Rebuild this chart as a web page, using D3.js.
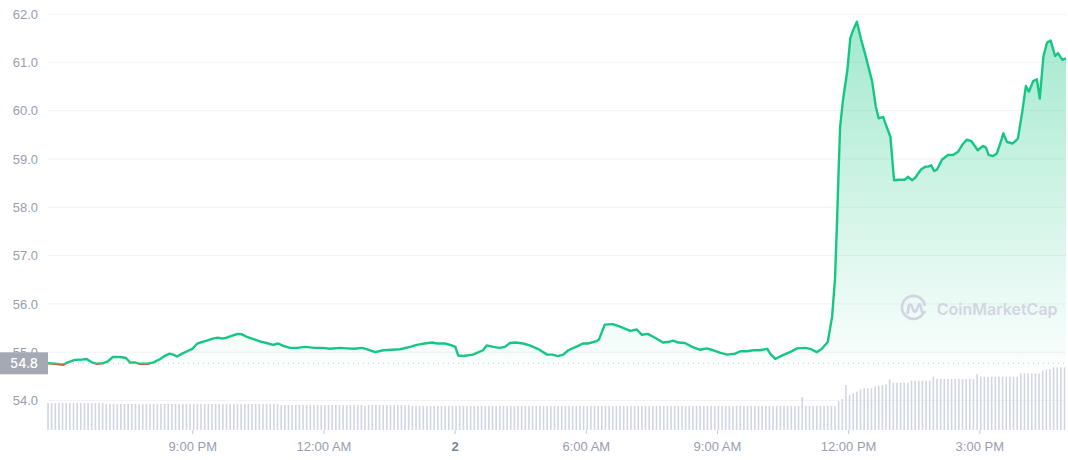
<!DOCTYPE html>
<html>
<head>
  <script src="https://d3js.org/d3.v7.min.js"></script>
  <style>
    body { margin: 0; background: #fff; }
    svg { display: block; font-family: "Inter", sans-serif; }
    .axis text { font-size: 13px; font-weight: 500; fill: #979eae; }
    .axis path { display: none; }
  </style>
</head>
<body>
  <script>
    // minutes after window start (5:42 PM), price in USD
    const minutes = [
      0, 10, 21, 27, 37, 48, 53, 60, 67, 75,
      82, 89, 99, 107, 113, 119, 126, 137, 145, 154,
      161, 167, 172, 177, 184, 191, 198, 205, 211, 218,
      226, 233, 239, 245, 254, 261, 266, 274, 284, 294,
      300, 309, 316, 323, 332, 342, 353, 366, 377, 387,
      401, 410, 421, 431, 438, 449, 460, 472, 483, 497,
      506, 517, 527, 534, 545, 554, 559, 563, 570, 583,
      597, 602, 611, 620, 627, 634, 641, 652, 661, 672,
      685, 692, 700, 707, 714, 726, 734, 741, 753, 756,
      764, 775, 785, 799, 808, 815, 823, 833, 844, 851,
      858, 865, 874, 884, 895, 904, 913, 922, 932, 943,
      950, 959, 968, 977, 987, 991, 998, 1007, 1018, 1028,
      1039, 1046, 1055, 1062, 1070, 1076, 1080, 1083, 1085, 1087, 1091,
      1097, 1101, 1105, 1110, 1116, 1121, 1131, 1136, 1140, 1146,
      1150, 1156, 1161, 1167, 1176, 1180, 1186, 1190, 1198, 1204,
      1208, 1212, 1216, 1220, 1227, 1235, 1242, 1249, 1256, 1261,
      1267, 1276, 1283, 1287, 1291, 1297, 1302, 1307, 1311, 1316,
      1324, 1331, 1337, 1342, 1346, 1352, 1357, 1361, 1366, 1371,
      1376, 1382, 1386, 1392, 1397
    ];
    const prices = [
      54.77, 54.76, 54.74, 54.79, 54.84, 54.85, 54.86, 54.79, 54.76, 54.77,
      54.81, 54.90, 54.90, 54.88, 54.78, 54.79, 54.76, 54.76, 54.79, 54.86,
      54.93, 54.97, 54.95, 54.91, 54.97, 55.02, 55.07, 55.18, 55.21, 55.24,
      55.28, 55.30, 55.28, 55.30, 55.35, 55.38, 55.37, 55.31, 55.26, 55.21,
      55.19, 55.15, 55.18, 55.13, 55.09, 55.09, 55.11, 55.09, 55.09, 55.07,
      55.09, 55.08, 55.07, 55.09, 55.06, 55.00, 55.04, 55.05, 55.06, 55.11,
      55.15, 55.18, 55.20, 55.18, 55.18, 55.14, 55.11, 54.93, 54.92, 54.95,
      55.04, 55.14, 55.11, 55.09, 55.11, 55.19, 55.20, 55.18, 55.14, 55.07,
      54.95, 54.95, 54.92, 54.95, 55.04, 55.12, 55.18, 55.18, 55.23, 55.26,
      55.57, 55.58, 55.53, 55.44, 55.47, 55.36, 55.38, 55.30, 55.20, 55.21,
      55.24, 55.20, 55.19, 55.11, 55.05, 55.08, 55.04, 54.99, 54.95, 54.97,
      55.02, 55.02, 55.04, 55.04, 55.07, 54.97, 54.86, 54.93, 55.00, 55.08,
      55.09, 55.07, 55.00, 55.07, 55.21, 55.73, 56.52, 57.80, 58.77, 59.66, 60.22,
      60.84, 61.50, 61.67, 61.84, 61.46, 61.19, 60.60, 60.08, 59.84, 59.87,
      59.70, 59.46, 58.56, 58.57, 58.57, 58.63, 58.56, 58.61, 58.78, 58.84,
      58.84, 58.87, 58.75, 58.78, 58.99, 59.08, 59.08, 59.15, 59.32, 59.40,
      59.37, 59.18, 59.27, 59.24, 59.08, 59.06, 59.11, 59.33, 59.53, 59.35,
      59.32, 59.42, 59.98, 60.51, 60.39, 60.61, 60.65, 60.25, 61.12, 61.41,
      61.45, 61.13, 61.19, 61.05, 61.08
    ];
    // volume per 5-minute bar (relative units)
    const volumes = [
      2.7, 2.7, 2.7, 2.7, 2.7, 2.7, 2.7, 2.7, 2.7, 2.7, 2.7, 2.7, 2.7, 2.7, 2.7, 2.7, 2.6, 2.6, 2.6, 2.6,
      2.6, 2.6, 2.6, 2.6, 2.6, 2.6, 2.6, 2.6, 2.6, 2.6, 2.6, 2.6, 2.6, 2.6, 2.6, 2.6, 2.6, 2.6, 2.6, 2.6,
      2.6, 2.6, 2.6, 2.6, 2.6, 2.6, 2.6, 2.6, 2.6, 2.6, 2.6, 2.6, 2.6, 2.6, 2.6, 2.6, 2.6, 2.6, 2.6, 2.6,
      2.6, 2.6, 2.6, 2.6, 2.5, 2.5, 2.5, 2.5, 2.5, 2.5, 2.5, 2.5, 2.5, 2.5, 2.5, 2.5, 2.5, 2.5, 2.5, 2.5,
      2.5, 2.5, 2.5, 2.5, 2.5, 2.5, 2.5, 2.4, 2.5, 2.5, 2.5, 2.5, 2.5, 2.5, 2.5, 2.5, 2.5, 2.5, 2.5, 2.5,
      2.4, 2.4, 2.4, 2.4, 2.4, 2.4, 2.4, 2.4, 2.4, 2.4, 2.4, 2.4, 2.4, 2.4, 2.4, 2.4, 2.4, 2.4, 2.4, 2.4,
      2.4, 2.4, 2.4, 2.4, 2.4, 2.4, 2.4, 2.4, 2.4, 2.4, 2.4, 2.4, 2.4, 2.4, 2.4, 2.4, 2.4, 2.4, 2.4, 2.4,
      2.4, 2.4, 2.4, 2.4, 2.4, 2.4, 2.4, 2.4, 2.4, 2.4, 2.4, 2.4, 2.4, 2.4, 2.4, 2.4, 2.4, 2.4, 2.4, 2.4,
      2.4, 2.4, 2.4, 2.4, 2.4, 2.4, 2.4, 2.4, 2.4, 2.4, 2.4, 2.4, 2.4, 2.4, 2.4, 2.4, 2.4, 2.4, 2.4, 2.4,
      2.4, 2.4, 2.4, 2.4, 2.4, 2.4, 2.4, 2.4, 2.4, 2.4, 2.4, 2.4, 2.4, 2.4, 2.4, 2.4, 2.4, 2.4, 2.4, 2.4,
      2.4, 2.4, 2.4, 2.4, 2.4, 2.4, 2.4, 3.3, 2.4, 2.4, 2.4, 2.4, 2.4, 2.4, 2.4, 2.4, 2.4, 2.9, 3.1, 4.5,
      3.5, 3.67, 3.83, 4.07, 4.17, 4.17, 4.17, 4.33, 4.43, 4.5, 4.57, 5.07, 4.73, 4.73, 4.73, 4.73, 4.73, 4.93, 4.93, 4.93,
      4.93, 4.93, 4.93, 5.33, 5.1, 5.1, 5.1, 5.1, 5.1, 5.1, 5.1, 5.1, 5.1, 5.1, 5.1, 5.57, 5.33, 5.33, 5.33, 5.33,
      5.33, 5.33, 5.33, 5.33, 5.33, 5.33, 5.33, 5.67, 5.67, 5.67, 5.67, 5.67, 5.67, 5.93, 6.07, 6.07, 6.27, 6.27, 6.27, 6.27
    ];
    const barMinutes = 5;
    const tickMinutes = [198, 378, 558, 738, 918, 1098, 1278];
    const tickLabels = ["9:00 PM", "12:00 AM", "2", "6:00 AM", "9:00 AM", "12:00 PM", "3:00 PM"];
    const priceTicks = [54, 55, 56, 57, 58, 59, 60, 61, 62];

    const width = 1068;
    const height = 460;
    const left = 48, right = 1066;

    const svg = d3.select("body")
      .append("svg")
      .attr("width", width)
      .attr("height", height);

    const x = d3.scaleLinear().domain([0, 1397]).range([left, right]);
    const y = d3.scaleLinear().domain([54, 62]).range([400.5, 14]);
    const yVol = d3.scaleLinear().domain([0, 7]).range([430, 360]);

    const data = minutes.map((m, i) => ({ m: m, p: prices[i] }));
    const baseline = prices[0];

    const defs = svg.append("defs");
    const grad = defs.append("linearGradient")
      .attr("id", "fillGrad")
      .attr("gradientUnits", "userSpaceOnUse")
      .attr("x1", 0).attr("x2", 0)
      .attr("y1", y(62)).attr("y2", y(baseline));
    grad.append("stop").attr("offset", "0%").attr("stop-color", "#16c784").attr("stop-opacity", 0.4);
    grad.append("stop").attr("offset", "100%").attr("stop-color", "#16c784").attr("stop-opacity", 0.02);

    defs.append("clipPath").attr("id", "above")
      .append("rect")
      .attr("x", 0).attr("y", 0)
      .attr("width", width).attr("height", y(baseline));
    defs.append("clipPath").attr("id", "below")
      .append("rect")
      .attr("x", 0).attr("y", y(baseline))
      .attr("width", width).attr("height", height - y(baseline));

    // grid
    svg.append("g")
      .selectAll("line")
      .data(priceTicks)
      .join("line")
      .attr("x1", left)
      .attr("x2", right)
      .attr("y1", d => y(d))
      .attr("y2", d => y(d))
      .attr("stroke", "#f1f2f5")
      .attr("stroke-width", 1);

    // volume bars
    svg.append("g")
      .selectAll("rect")
      .data(volumes)
      .join("rect")
      .attr("x", (d, i) => x(i * barMinutes) - 0.8)
      .attr("y", d => yVol(d))
      .attr("width", 1.6)
      .attr("height", d => yVol(0) - yVol(d))
      .attr("fill", "#d0d6e4");

    // baseline dotted line
    svg.append("line")
      .attr("x1", left)
      .attr("x2", right)
      .attr("y1", y(baseline))
      .attr("y2", y(baseline))
      .attr("stroke", "#c3c7d0")
      .attr("stroke-width", 1)
      .attr("stroke-dasharray", "1,4");

    const area = d3.area()
      .x(d => x(d.m))
      .y0(y(baseline))
      .y1(d => y(d.p));

    svg.append("path")
      .datum(data)
      .attr("clip-path", "url(#above)")
      .attr("fill", "url(#fillGrad)")
      .attr("d", area);

    const line = d3.line()
      .x(d => x(d.m))
      .y(d => y(d.p));

    svg.append("path")
      .datum(data)
      .attr("clip-path", "url(#above)")
      .attr("fill", "none")
      .attr("stroke", "#16c784")
      .attr("stroke-width", 2.4)
      .attr("stroke-linejoin", "round")
      .attr("d", line);

    svg.append("path")
      .datum(data)
      .attr("clip-path", "url(#below)")
      .attr("fill", "none")
      .attr("stroke", "#a8704c")
      .attr("stroke-width", 2.4)
      .attr("stroke-linejoin", "round")
      .attr("d", line);

    // watermark
    const wm = svg.append("g")
      .attr("transform", `translate(${x(1188)}, 308)`)
      .attr("fill", "none")
      .attr("stroke", "#d2d5e1")
      .attr("stroke-width", 2.6)
      .attr("stroke-linecap", "round")
      .attr("stroke-linejoin", "round");
    wm.append("path")
      .attr("d", "M 9.5 5.5 A 11.5 11.5 0 1 1 11 -3");
    wm.append("path")
      .attr("d", "M -6 5 L -5 -2 Q -4 -5 -2 -2 L 0 3 Q 1 5 3 2 L 5 -3 Q 6 -5 7 -2 L 8 3 Q 9 6 11 4");
    svg.append("text")
      .attr("x", x(1188) + 23)
      .attr("y", 309)
      .attr("dominant-baseline", "central")
      .attr("font-size", "16px")
      .attr("font-weight", 600)
      .attr("fill", "#d2d5e1")
      .text("CoinMarketCap");

    // y axis
    svg.append("g")
      .attr("class", "axis")
      .attr("transform", `translate(${left}, 0)`)
      .call(d3.axisLeft(y)
        .tickValues(priceTicks)
        .tickFormat(d3.format(".1f"))
        .tickSize(0)
        .tickPadding(10));

    // x axis
    const xAxis = svg.append("g")
      .attr("class", "axis")
      .attr("transform", `translate(0, ${yVol(0)})`)
      .call(d3.axisBottom(x)
        .tickValues(tickMinutes)
        .tickFormat((d, i) => tickLabels[i])
        .tickSize(4)
        .tickPadding(8));
    xAxis.selectAll(".tick line").attr("stroke", "#c5c9d3");
    xAxis.selectAll(".tick text")
      .filter(d => d === 558)
      .style("font-weight", 700)
      .style("fill", "#7c8497");

    // open-price label
    const tag = svg.append("g");
    tag.append("rect")
      .attr("x", 0)
      .attr("y", y(baseline) - 11)
      .attr("width", left)
      .attr("height", 22)
      .attr("fill", "#a4a9b4");
    tag.append("text")
      .attr("x", left - 10)
      .attr("y", y(baseline))
      .attr("text-anchor", "end")
      .attr("dominant-baseline", "central")
      .attr("font-size", "13px")
      .attr("font-weight", 500)
      .attr("fill", "#fff")
      .text(baseline.toFixed(1));
  </script>
</body>
</html>
